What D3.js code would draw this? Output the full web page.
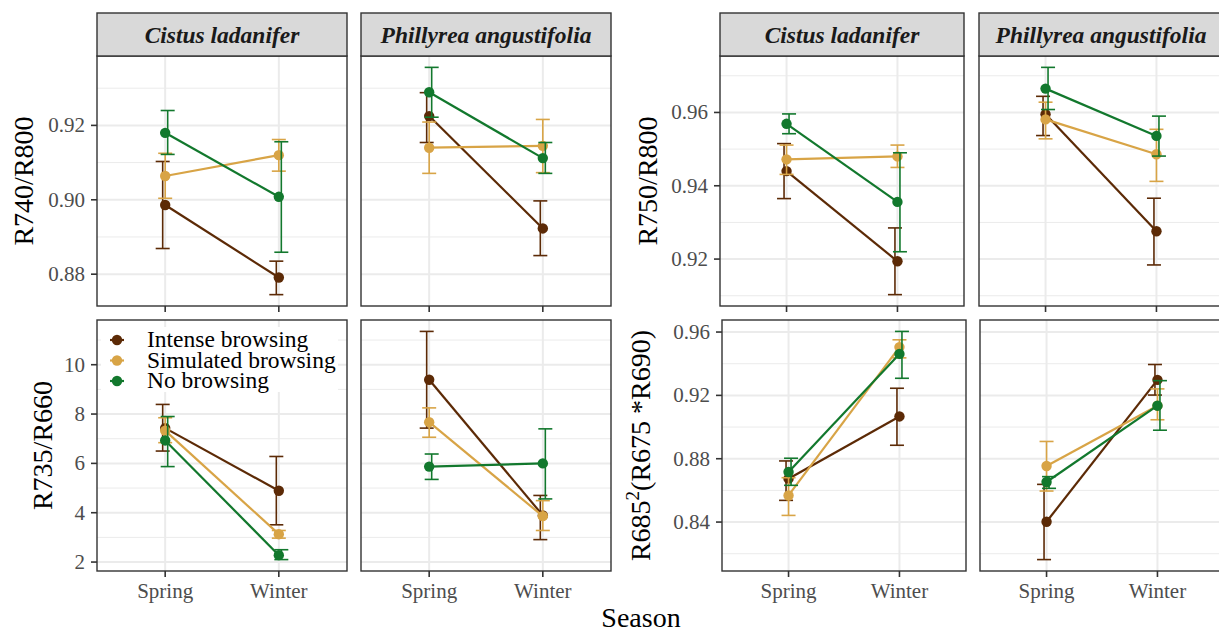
<!DOCTYPE html>
<html>
<head>
<meta charset="utf-8">
<script src="https://cdn.jsdelivr.net/npm/d3@7"></script>
<style>
  body { margin: 0; background: #fff; }
  svg text, svg tspan { font-family: "Liberation Serif", serif; }
</style>
</head>
<body>
<div class="chart"></div>
<script>
const seasons = ["Spring", "Winter"];
const species = ["Cistus ladanifer", "Phillyrea angustifolia"];
const treatments = ["Intense browsing", "Simulated browsing", "No browsing"];
const colors = ["#5C2A06", "#D8A446", "#12782D"];

// values are [species][treatment][season]
const r740Mean = [
  [[0.8986, 0.8791], [0.9064, 0.9120], [0.9180, 0.9008]],
  [[0.9225, 0.8923], [0.9140, 0.9145], [0.9289, 0.9112]]
];
const r740Low = [
  [[0.8869, 0.8745], [0.9004, 0.9077], [0.9122, 0.8859]],
  [[0.9154, 0.8850], [0.9071, 0.9073], [0.9222, 0.9071]]
];
const r740High = [
  [[0.9103, 0.8835], [0.9125, 0.9162], [0.9240, 0.9156]],
  [[0.9288, 0.8997], [0.9209, 0.9216], [0.9356, 0.9154]]
];

const r750Mean = [
  [[0.9440, 0.9194], [0.9472, 0.9480], [0.9569, 0.9356]],
  [[0.9595, 0.9276], [0.9581, 0.9486], [0.9665, 0.9536]]
];
const r750Low = [
  [[0.9365, 0.9103], [0.9431, 0.9450], [0.9542, 0.9220]],
  [[0.9537, 0.9184], [0.9528, 0.9412], [0.9608, 0.9481]]
];
const r750High = [
  [[0.9515, 0.9285], [0.9511, 0.9511], [0.9596, 0.9490]],
  [[0.9644, 0.9366], [0.9628, 0.9554], [0.9723, 0.9590]]
];

const r735Mean = [
  [[7.43, 4.89], [7.33, 3.13], [6.93, 2.28]],
  [[9.39, 3.89], [7.67, 3.86], [5.87, 6.00]]
];
const r735Low = [
  [[6.50, 3.51], [6.84, 2.97], [5.87, 2.10]],
  [[7.43, 2.91], [7.06, 3.28], [5.35, 4.56]]
];
const r735High = [
  [[8.39, 6.28], [7.85, 3.28], [7.90, 2.50]],
  [[11.35, 4.70], [8.25, 4.49], [6.38, 7.40]]
];

const r685Mean = [
  [[0.8674, 0.9067], [0.8568, 0.9505], [0.8716, 0.9462]],
  [[0.8402, 0.9298], [0.8754, 0.9135], [0.8653, 0.9135]]
];
const r685Low = [
  [[0.8537, 0.8885], [0.8442, 0.9437], [0.8632, 0.9308]],
  [[0.8163, 0.9202], [0.8596, 0.9046], [0.8613, 0.8980]]
];
const r685High = [
  [[0.8786, 0.9245], [0.8680, 0.9551], [0.8803, 0.9604]],
  [[0.8638, 0.9395], [0.8909, 0.9241], [0.8687, 0.9293]]
];

const r740Ticks = [0.88, 0.90, 0.92];
const r750Ticks = [0.92, 0.94, 0.96];
const r735Ticks = [2, 4, 6, 8, 10];
const r685Ticks = [0.84, 0.88, 0.92, 0.96];

const width = 1219, height = 632;
const serif = '"Liberation Serif", serif';

const svg = d3.select(".chart").append("svg")
    .attr("width", width)
    .attr("height", height)

// layout of the four plot blocks
const blocks = [
  { mean: r740Mean, lo: r740Low, hi: r740High, ticks: r740Ticks, fmt: ".2f",
    title: ["R740/R800"], titleX: 23, panelX: [97, 361], panelW: 250, top: 56, bottom: 306, strip: true },
  { mean: r750Mean, lo: r750Low, hi: r750High, ticks: r750Ticks, fmt: ".2f",
    title: ["R750/R800"], titleX: 647, panelX: [720, 979], panelW: 244, top: 56, bottom: 306, strip: true },
  { mean: r735Mean, lo: r735Low, hi: r735High, ticks: r735Ticks, fmt: "d",
    title: ["R735/R660"], titleX: 42, panelX: [97, 361], panelW: 250, top: 320, bottom: 571, xLabels: true, legend: true },
  { mean: r685Mean, lo: r685Low, hi: r685High, ticks: r685Ticks, fmt: ".2f",
    title: ["R685", "2", "(R675 *R690)"], titleX: 640, panelX: [722, 980], panelW: 244, top: 320, bottom: 571, xLabels: true }
];

const dodge = [-2.5, 0, 2.5];

blocks.forEach(b => {
  const lo = d3.min(b.lo.flat(2)), hi = d3.max(b.hi.flat(2));
  const pad = (hi - lo) * 0.05;
  const y = d3.scaleLinear().domain([lo - pad, hi + pad]).range([b.bottom, b.top]);
  const step = b.ticks[1] - b.ticks[0];
  const minor = b.ticks.map(t => t - step / 2)
      .concat([b.ticks[b.ticks.length - 1] + step / 2])
      .filter(v => v > y.domain()[0] && v < y.domain()[1]);

  species.forEach((sp, si) => {
    const x0 = b.panelX[si];
    const x = d3.scalePoint().domain(seasons).range([x0, x0 + b.panelW]).padding(0.6);
    const g = svg.append("g");

    g.append("rect")
        .attr("x", x0).attr("y", b.top)
        .attr("width", b.panelW).attr("height", b.bottom - b.top)
        .attr("fill", "#fff");

    g.selectAll(".minor").data(minor).join("line")
        .attr("x1", x0).attr("x2", x0 + b.panelW)
        .attr("y1", d => y(d)).attr("y2", d => y(d))
        .attr("stroke", "#EBEBEB").attr("stroke-width", 1);

    g.selectAll(".major").data(b.ticks).join("line")
        .attr("x1", x0).attr("x2", x0 + b.panelW)
        .attr("y1", d => y(d)).attr("y2", d => y(d))
        .attr("stroke", "#EBEBEB").attr("stroke-width", 2);

    g.selectAll(".vmajor").data(seasons).join("line")
        .attr("x1", d => x(d)).attr("x2", d => x(d))
        .attr("y1", b.top).attr("y2", b.bottom)
        .attr("stroke", "#EBEBEB").attr("stroke-width", 2);

    treatments.forEach((t, ti) => {
      const pts = seasons.map((s, k) => ({
        s, k, m: b.mean[si][ti][k], l: b.lo[si][ti][k], h: b.hi[si][ti][k]
      }));

      g.append("path")
          .datum(pts)
          .attr("fill", "none")
          .attr("stroke", colors[ti])
          .attr("stroke-width", 2.2)
          .attr("d", d3.line().x(d => x(d.s)).y(d => y(d.m)));

      const eb = g.append("g")
          .attr("stroke", colors[ti])
          .attr("stroke-width", 1.6)
          .selectAll("g")
          .data(pts)
          .join("g")
          .attr("transform", d => `translate(${x(d.s) + dodge[ti]},0)`);
      eb.append("line").attr("x1", 0).attr("x2", 0)
          .attr("y1", d => y(d.l)).attr("y2", d => y(d.h));
      eb.append("line").attr("x1", -7).attr("x2", 7)
          .attr("y1", d => y(d.l)).attr("y2", d => y(d.l));
      eb.append("line").attr("x1", -7).attr("x2", 7)
          .attr("y1", d => y(d.h)).attr("y2", d => y(d.h));

      g.selectAll(null).data(pts).join("circle")
          .attr("cx", d => x(d.s))
          .attr("cy", d => y(d.m))
          .attr("r", 5.2)
          .attr("fill", colors[ti]);
    });

    g.append("rect")
        .attr("x", x0).attr("y", b.top)
        .attr("width", b.panelW).attr("height", b.bottom - b.top)
        .attr("fill", "none").attr("stroke", "#333").attr("stroke-width", 1.4);

    // x axis ticks
    g.selectAll(".xt").data(seasons).join("line")
        .attr("x1", d => x(d)).attr("x2", d => x(d))
        .attr("y1", b.bottom).attr("y2", b.bottom + 6)
        .attr("stroke", "#333").attr("stroke-width", 1.6);

    if (b.xLabels) {
      g.selectAll(".xl").data(seasons).join("text")
          .attr("x", d => x(d))
          .attr("y", b.bottom + 27)
          .attr("text-anchor", "middle")
          .attr("fill", "#4D4D4D")
          .style("font-family", serif)
          .style("font-size", "21px")
          .text(d => d);
    }

    if (b.strip) {
      g.append("rect")
          .attr("x", x0).attr("y", 13)
          .attr("width", b.panelW).attr("height", b.top - 13)
          .attr("fill", "#D9D9D9").attr("stroke", "#333").attr("stroke-width", 1.4);
      g.append("text")
          .attr("x", x0 + b.panelW / 2)
          .attr("y", (13 + b.top) / 2 + 8)
          .attr("text-anchor", "middle")
          .attr("fill", "#1A1A1A")
          .style("font-family", serif)
          .style("font-size", "23.5px")
          .style("font-weight", "bold")
          .style("font-style", "italic")
          .text(sp);
    }

    // y axis only on first panel of each block
    if (si === 0) {
      const fmt = d3.format(b.fmt);
      g.selectAll(".yt").data(b.ticks).join("line")
          .attr("x1", x0 - 6).attr("x2", x0)
          .attr("y1", d => y(d)).attr("y2", d => y(d))
          .attr("stroke", "#333").attr("stroke-width", 1.6);
      g.selectAll(".yl").data(b.ticks).join("text")
          .attr("x", x0 - 12)
          .attr("y", d => y(d) + 7)
          .attr("text-anchor", "end")
          .attr("fill", "#4D4D4D")
          .style("font-family", serif)
          .style("font-size", "21px")
          .text(d => fmt(d));

      const cy = (b.top + b.bottom) / 2;
      const title = svg.append("text")
          .attr("transform", `translate(${b.titleX},${cy}) rotate(-90)`)
          .attr("text-anchor", "middle")
          .attr("dy", "0.34em")
          .attr("fill", "#000")
          .style("font-family", serif)
          .style("font-size", "28px");
      title.append("tspan").text(b.title[0]);
      if (b.title.length > 1) {
        title.append("tspan").attr("dy", -11).style("font-size", "19px").text(b.title[1]);
        title.append("tspan").attr("dy", 11).text(b.title[2]);
      }
    }

    if (b.legend && si === 0) {
      const lg = svg.append("g");
      lg.append("rect")
          .attr("x", x0 + 4).attr("y", b.top + 7)
          .attr("width", 237).attr("height", 65)
          .attr("fill", "#fff");
      const item = lg.selectAll("g").data(treatments).join("g")
          .attr("transform", (d, i) => `translate(${x0 + 20},${b.top + 20 + i * 20.5})`);
      item.append("line")
          .attr("x1", -7).attr("x2", 7)
          .attr("stroke", (d, i) => colors[i]).attr("stroke-width", 2.2);
      item.append("circle")
          .attr("r", 5.2)
          .attr("fill", (d, i) => colors[i]);
      item.append("text")
          .attr("x", 30)
          .attr("y", 7)
          .attr("fill", "#000")
          .style("font-family", serif)
          .style("font-size", "23.5px")
          .text(d => d);
    }
  });
});

svg.append("text")
    .attr("x", 641)
    .attr("y", 627)
    .attr("text-anchor", "middle")
    .attr("fill", "#000")
    .style("font-family", serif)
    .style("font-size", "28px")
    .text("Season");
</script>
</body>
</html>
